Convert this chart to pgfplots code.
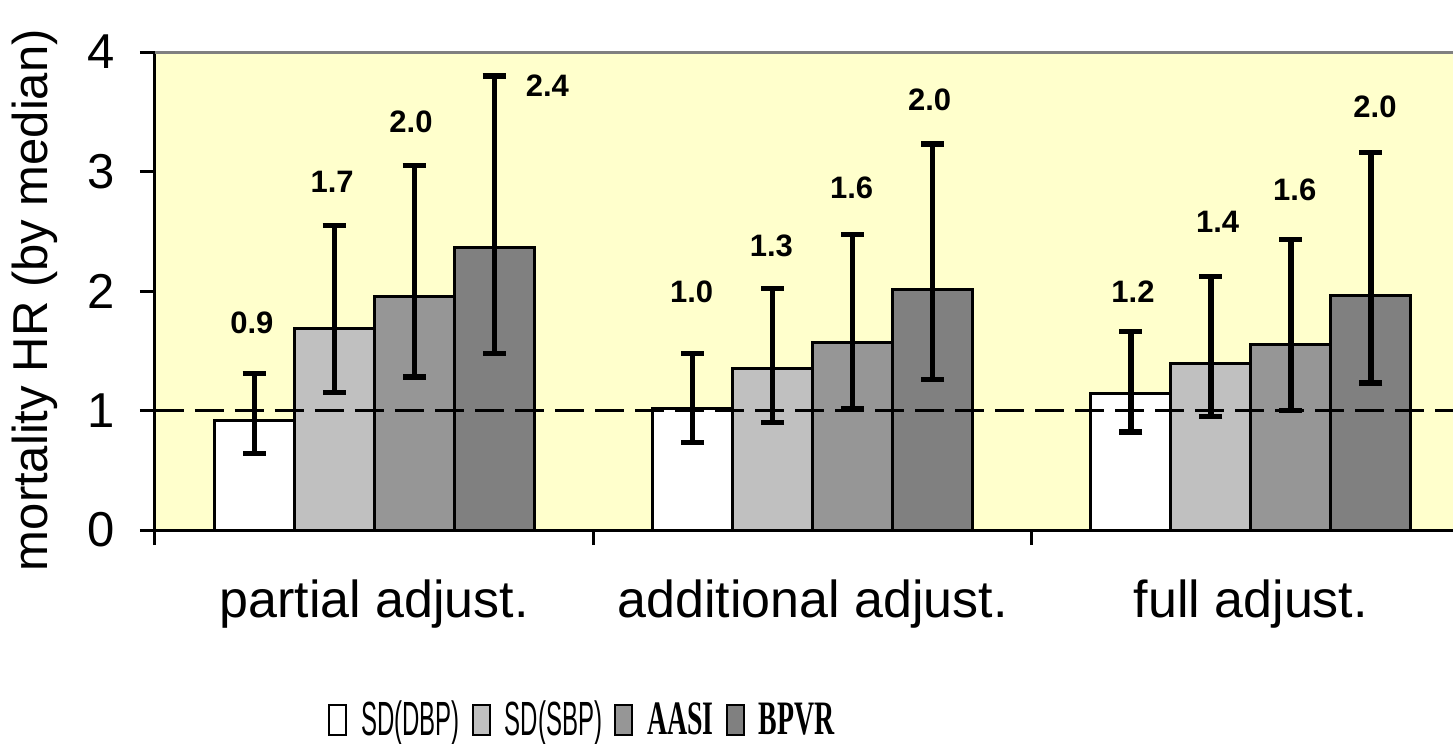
\documentclass[border=0pt]{standalone}
\usepackage{graphicx}
\usepackage{fontspec}
\setmainfont{Liberation Sans}
\newfontfamily\timesfont{Liberation Serif}
\usepackage{pgfplots}
\pgfplotsset{compat=1.18}
\definecolor{bgyellow}{HTML}{FFFFCC}
\definecolor{barA}{HTML}{FFFFFF}
\definecolor{barB}{HTML}{C0C0C0}
\definecolor{barC}{HTML}{969696}
\definecolor{barD}{HTML}{808080}
\begin{document}
\begin{tikzpicture}
\useasboundingbox (-77.5pt,-107pt) rectangle (649pt,265pt);
\begin{axis}[
  scale only axis,
  width=649pt, height=239pt,
  xmin=-0.5, xmax=2.461,
  ymin=0, ymax=4,
  clip=false,
  ybar=0pt, bar width=40pt,
  axis background/.style={fill=bgyellow},
  axis x line*=bottom, axis y line*=left,
  axis line style={line width=1.5pt, black},
  tick style={line width=1.5pt, black},
  tick align=outside,
  major tick length=7.5pt,
  xtick={-0.5,0.5,1.5},
  xticklabels={},
  extra x ticks={0,1,2},
  extra x tick labels={partial adjust., additional adjust., full adjust.},
  extra x tick style={major tick length=0pt, tick label style={anchor=base, yshift=-43.5pt, font=\fontsize{26pt}{26pt}\selectfont}},
  ytick={0,1,2,3,4},
  /pgf/number format/assume math mode=true,
  tick label style={font=\fontsize{24.5pt}{24.5pt}\selectfont},
  yticklabel style={xshift=-9pt},
  every axis y label/.style={at={([xshift=-60pt]rel axis cs:0,0.481)}, rotate=90, anchor=center, font=\fontsize{24.5pt}{24.5pt}\selectfont},
  ylabel={mortality HR (by median)},
  legend image code/.code={\draw[#1,line width=1pt] (0pt,-7.5pt) rectangle (8.5pt,7.5pt);},
  legend style={at={(rel axis cs:0.330,-0.3975)}, anchor=center, draw=none, fill=none,
    legend columns=-1, font=\fontsize{24pt}{24pt}\selectfont,
    /tikz/every even column/.append style={column sep=4pt},
    legend cell align=left},
  error bars/y dir=both, error bars/y explicit,
  error bars/error bar style={line width=2.6pt, black},
  error bars/error mark options={rotate=90, mark size=5.75pt, line width=2.6pt, black},
]
\addplot[fill=barA, draw=black, line width=1.5pt] coordinates {
  (0,0.92) += (0,0.39) -= (0,0.28)
  (1,1.02) += (0,0.46) -= (0,0.29)
  (2,1.14) += (0,0.52) -= (0,0.32)
};
\addplot[fill=barB, draw=black, line width=1.5pt] coordinates {
  (0,1.69) += (0,0.86) -= (0,0.54)
  (1,1.35) += (0,0.67) -= (0,0.45)
  (2,1.39) += (0,0.73) -= (0,0.44)
};
\addplot[fill=barC, draw=black, line width=1.5pt] coordinates {
  (0,1.95) += (0,1.10) -= (0,0.67)
  (1,1.57) += (0,0.90) -= (0,0.55)
  (2,1.55) += (0,0.88) -= (0,0.55)
};
\addplot[fill=barD, draw=black, line width=1.5pt] coordinates {
  (0,2.36) += (0,1.44) -= (0,0.88)
  (1,2.01) += (0,1.22) -= (0,0.75)
  (2,1.96) += (0,1.20) -= (0,0.73)
};
\legend{\hspace*{5pt}\scalebox{0.5}[1]{SD(DBP)}, \hspace*{5pt}\scalebox{0.5}[1]{SD(SBP)}, \hspace*{5pt}\scalebox{0.58}[1]{\timesfont\bfseries AASI}, \hspace*{5pt}\scalebox{0.58}[1]{\timesfont\bfseries BPVR}}
\addplot[sharp plot, no marks, black, line width=1.5pt, dash pattern=on 14.5pt off 5.5pt, forget plot, error bars/y dir=none] coordinates {(-0.5,1) (2.461,1)};
\draw[barD, line width=1.5pt] (rel axis cs:0,1) -- (rel axis cs:1,1);
\begin{scope}[every node/.style={font=\fontsize{15.5pt}{15.5pt}\bfseries\selectfont}]
\node at (axis cs:-0.279,1.732) {0.9};
\node at (axis cs:-0.096,2.912) {1.7};
\node at (axis cs:0.084,3.414) {2.0};
\node at (axis cs:0.395,3.715) {2.4};
\node at (axis cs:0.724,1.992) {1.0};
\node at (axis cs:0.906,2.38) {1.3};
\node at (axis cs:1.089,2.866) {1.6};
\node at (axis cs:1.267,3.598) {2.0};
\node at (axis cs:1.731,1.992) {1.2};
\node at (axis cs:1.924,2.577) {1.4};
\node at (axis cs:2.100,2.85) {1.6};
\node at (axis cs:2.283,3.54) {2.0};
\end{scope}
\end{axis}
\end{tikzpicture}
\end{document}
